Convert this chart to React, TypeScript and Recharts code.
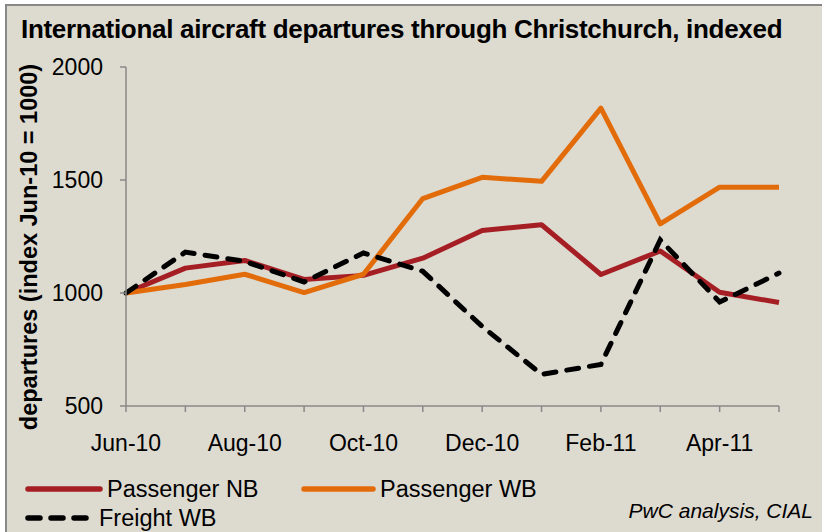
import React from "react";
import { LineChart, Line, XAxis, YAxis } from "recharts";

const months = [
  "Jun-10", "Jul-10", "Aug-10", "Sep-10", "Oct-10", "Nov-10",
  "Dec-10", "Jan-11", "Feb-11", "Mar-11", "Apr-11", "May-11",
];
const passengerNB = [1000, 1110, 1144, 1060, 1078, 1154, 1277, 1302, 1082, 1186, 1003, 958];
const passengerWB = [1000, 1038, 1083, 1002, 1083, 1418, 1512, 1494, 1818, 1306, 1468, 1468];
const freightWB = [1000, 1181, 1140, 1049, 1177, 1096, 852, 640, 684, 1235, 960, 1088];
const yTicks = [500, 1000, 1500, 2000];

const data = months.map((m, i) => ({
  month: m,
  nb: passengerNB[i],
  wb: passengerWB[i],
  freight: freightWB[i],
}));

const FONT = "'Liberation Sans', Arial, sans-serif";
const RED = "#A51E24";
const ORANGE = "#E36C0A";
const AXIS = "#888888";

const XTick = (props: any) => {
  const { x, y, payload, index } = props;
  if (index % 2 !== 0) return <g />;
  return (
    <text x={x} y={y} dy="0.71em" textAnchor="middle" fill="#000" fontSize={23} fontFamily={FONT}>
      {payload.value}
    </text>
  );
};

const YLabel = () => (
  <text
    x={37}
    y={247}
    transform="rotate(-90, 37, 247)"
    textAnchor="middle"
    fontSize={23.5}
    fontWeight="bold"
    fontFamily={FONT}
    fill="#000"
  >
    departures (index Jun-10 = 1000)
  </text>
);

const LegendItem = ({ color, dash, label, left, top, len }: any) => (
  <div style={{ position: "absolute", left, top, height: 24, display: "flex", alignItems: "center" }}>
    <svg width={len + 6} height={10} style={{ marginRight: 4 }}>
      <line
        x1={3}
        y1={5}
        x2={len + 3}
        y2={5}
        stroke={color}
        strokeWidth={5.5}
        strokeLinecap="round"
        strokeDasharray={dash}
      />
    </svg>
    <span style={{ fontSize: 23.5, fontFamily: FONT, color: "#000" }}>{label}</span>
  </div>
);

export default function App() {
  return (
    <div style={{ position: "absolute", left: 0, top: 0, width: 822, height: 532, overflow: "hidden", background: "#fff" }}>
      <div
        style={{
          position: "absolute",
          left: 5,
          top: 4,
          width: 830,
          height: 540,
          background: "#DDDAD0",
          borderLeft: `2px solid ${AXIS}`,
          borderTop: `2px solid ${AXIS}`,
        }}
      />
      <div
        style={{
          position: "absolute",
          left: 21,
          top: 17,
          fontSize: 26,
          lineHeight: "24px",
          fontWeight: "bold",
          fontFamily: FONT,
          color: "#000",
          whiteSpace: "nowrap",
          letterSpacing: -0.3,
        }}
      >
        International aircraft departures through Christchurch, indexed
      </div>
      <div style={{ position: "absolute", left: 0, top: 0 }}>
        <LineChart width={822} height={532} data={data} margin={{ top: 67, right: 43, bottom: 0, left: 0 }}>
          <XAxis
            dataKey="month"
            interval={0}
            height={126}
            tick={<XTick />}
            tickSize={6}
            tickMargin={23}
            axisLine={{ stroke: AXIS, strokeWidth: 1.5 }}
            tickLine={{ stroke: AXIS, strokeWidth: 1.5 }}
          />
          <YAxis
            domain={[500, 2000]}
            ticks={yTicks}
            width={126}
            tickSize={6}
            tickMargin={17}
            tick={{ fontSize: 23, fontFamily: FONT, fill: "#000" }}
            axisLine={{ stroke: AXIS, strokeWidth: 1.5 }}
            tickLine={{ stroke: AXIS, strokeWidth: 1.5 }}
            label={<YLabel />}
          />
          <Line dataKey="nb" stroke={RED} strokeWidth={5} dot={false} isAnimationActive={false} strokeLinejoin="round" />
          <Line dataKey="wb" stroke={ORANGE} strokeWidth={5} dot={false} isAnimationActive={false} strokeLinejoin="round" />
          <Line
            dataKey="freight"
            stroke="#000"
            strokeWidth={5}
            strokeDasharray="12 11"
            strokeLinecap="round"
            dot={false}
            isAnimationActive={false}
          />
        </LineChart>
      </div>
      <LegendItem color={RED} label="Passenger NB" left={25} top={477} len={72} />
      <LegendItem color={ORANGE} label="Passenger WB" left={301} top={477} len={69} />
      <LegendItem color="#000" dash="12 11" label="Freight WB" left={25} top={506} len={64} />
      <div
        style={{
          position: "absolute",
          right: 9,
          top: 499,
          fontSize: 21,
          fontStyle: "italic",
          fontFamily: FONT,
          color: "#000",
          whiteSpace: "nowrap",
        }}
      >
        PwC analysis, CIAL
      </div>
    </div>
  );
}
